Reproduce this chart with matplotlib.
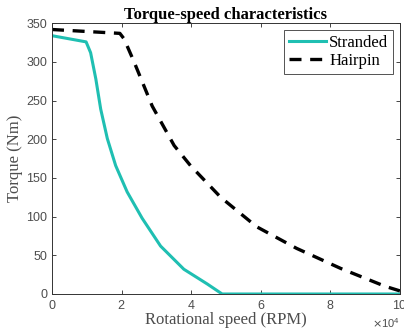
import matplotlib
matplotlib.use("Agg")
import matplotlib.pyplot as plt
from matplotlib.ticker import ScalarFormatter

# ---------------------------------------------------------------------------
# Data (speed in RPM, torque in Nm)
# ---------------------------------------------------------------------------
stranded_speed = [0, 9800, 11100, 12600, 14000, 15900, 18300, 21600, 25900,
                  31200, 37900, 44600, 48900, 100000]
stranded_torque = [334, 326, 312, 278, 239, 201, 166, 132, 98, 62, 32, 13, 0, 0]

hairpin_speed = [0, 19500, 20700, 23600, 28800, 35100, 39800, 48500, 58800,
                 70300, 83000, 95700, 100000]
hairpin_torque = [342, 337, 330, 300, 243, 192, 166, 125, 87, 59, 33, 10, 4]

x_ticks = [0, 20000, 40000, 60000, 80000, 100000]
y_ticks = [0, 50, 100, 150, 200, 250, 300, 350]

serif = ["Liberation Serif", "DejaVu Serif"]
sans = ["Liberation Sans", "DejaVu Sans"]
axis_grey = "#262626"
tick_grey = "#4d4d4d"

fig = plt.figure(figsize=(4.04, 3.36), dpi=100)
ax = fig.add_axes([0.1287, 0.125, 0.8613, 0.8056])

ax.plot(stranded_speed, stranded_torque, color="#1fbfb2", linewidth=2.2,
        solid_joinstyle="round", label="Stranded")
ax.plot(hairpin_speed, hairpin_torque, color="black", linewidth=2.4,
        linestyle=(0, (3.6, 2.6)), label="Hairpin")

ax.set_xlim(0, 100000)
ax.set_ylim(0, 350)
ax.set_xticks(x_ticks)
ax.set_yticks(y_ticks)

fmt = ScalarFormatter(useMathText=True)
fmt.set_powerlimits((4, 4))
ax.xaxis.set_major_formatter(fmt)
ax.xaxis.get_offset_text().set_fontsize(8)
ax.xaxis.get_offset_text().set_color(tick_grey)
ax.xaxis.get_offset_text().set_family(sans)

ax.tick_params(direction="in", length=3, width=0.6, colors=axis_grey,
               labelcolor=tick_grey, labelsize=9, top=True, right=True)
for lab in ax.get_xticklabels() + ax.get_yticklabels():
    lab.set_family(sans)
for sp in ax.spines.values():
    sp.set_color("#333333")
    sp.set_linewidth(0.7)

ax.set_title("Torque-speed characteristics", family=serif, fontweight="bold",
             fontsize=12, pad=3)
ax.set_xlabel("Rotational speed (RPM)", family=serif, fontsize=12, color=tick_grey, labelpad=0)
ax.set_ylabel("Torque (Nm)", family=serif, fontsize=12, color=tick_grey, labelpad=2)

leg = ax.legend(loc="upper right", prop={"family": serif, "size": 12},
                frameon=True, fancybox=False, handlelength=2.2, handletextpad=0.2,
                borderpad=0.3, labelspacing=0.1, borderaxespad=0.4)
leg.get_frame().set_edgecolor(axis_grey)
leg.get_frame().set_linewidth(0.7)

fig.savefig("out.png", dpi=100)
